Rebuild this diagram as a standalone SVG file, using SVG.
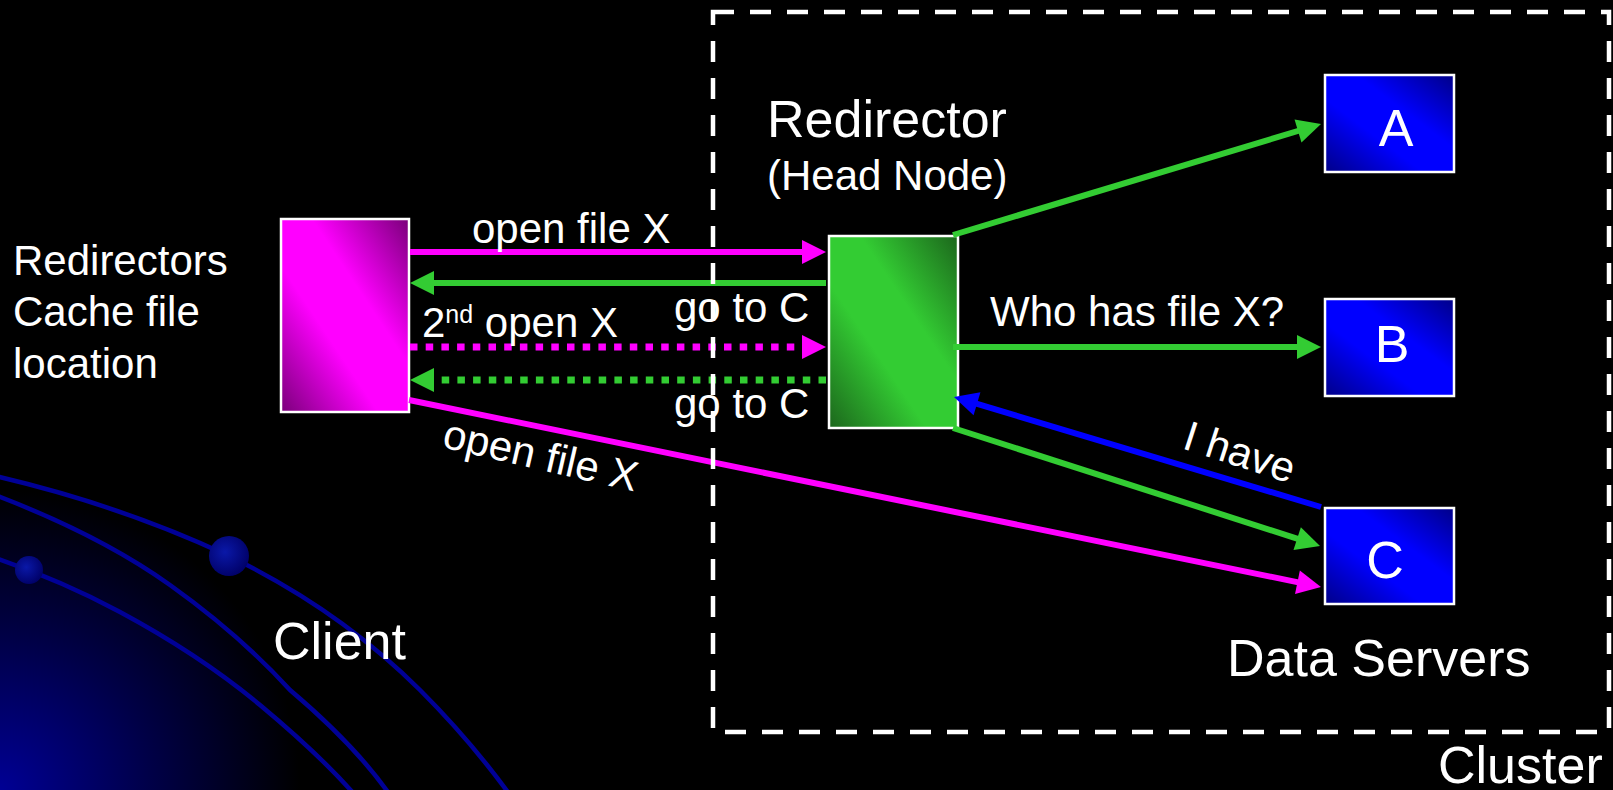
<svg xmlns="http://www.w3.org/2000/svg" width="1613" height="790" viewBox="0 0 1613 790">
  <style>
    text { font-family: "Liberation Sans", Arial, sans-serif; fill: #ffffff; }
    .big { font-size: 52px; }
    .mid { font-size: 42px; }
    .box { stroke: #ffffff; stroke-width: 2.5; }
    .conn { fill: none; stroke-width: 6; }
    .dot { fill: none; stroke-width: 7; stroke-dasharray: 7.5 8.2; }
    .mag { stroke: #ff00ff; }
    .grn { stroke: #33cc33; }
    .blu { stroke: #0000ff; }
    .orbit { fill: none; stroke: #000096; stroke-width: 4.5; }
  </style>
  <defs>
    <radialGradient id="glow" cx="0" cy="790" r="300" gradientUnits="userSpaceOnUse">
      <stop offset="0" stop-color="#000094"/>
      <stop offset="0.5" stop-color="#000048"/>
      <stop offset="1" stop-color="#000000"/>
    </radialGradient>
    <radialGradient id="ball" cx="0.4" cy="0.4" r="0.65">
      <stop offset="0" stop-color="#0a18a8"/>
      <stop offset="1" stop-color="#000066"/>
    </radialGradient>
    <linearGradient id="gMag" x1="1" y1="0" x2="0" y2="1">
      <stop offset="0" stop-color="#7a007a"/>
      <stop offset="0.38" stop-color="#ff00ff"/>
      <stop offset="0.62" stop-color="#ff00ff"/>
      <stop offset="1" stop-color="#7a007a"/>
    </linearGradient>
    <linearGradient id="gGrn" x1="1" y1="0" x2="0" y2="1">
      <stop offset="0" stop-color="#1c661c"/>
      <stop offset="0.38" stop-color="#33cc33"/>
      <stop offset="0.62" stop-color="#33cc33"/>
      <stop offset="1" stop-color="#1c661c"/>
    </linearGradient>
    <linearGradient id="gBlu" x1="1" y1="0" x2="0" y2="1">
      <stop offset="0" stop-color="#000088"/>
      <stop offset="0.38" stop-color="#0000ff"/>
      <stop offset="0.62" stop-color="#0000ff"/>
      <stop offset="1" stop-color="#000088"/>
    </linearGradient>
    <marker id="hMag" markerUnits="userSpaceOnUse" markerWidth="24" markerHeight="24" refX="12" refY="12" orient="auto" overflow="visible">
      <path d="M0,0 L24,12 L0,24 z" fill="#ff00ff"/>
    </marker>
    <marker id="hGrn" markerUnits="userSpaceOnUse" markerWidth="24" markerHeight="24" refX="12" refY="12" orient="auto" overflow="visible">
      <path d="M0,0 L24,12 L0,24 z" fill="#33cc33"/>
    </marker>
    <marker id="hBlu" markerUnits="userSpaceOnUse" markerWidth="24" markerHeight="24" refX="12" refY="12" orient="auto" overflow="visible">
      <path d="M0,0 L24,12 L0,24 z" fill="#0000ff"/>
    </marker>
  </defs>

  <!-- background -->
  <rect x="0" y="0" width="1613" height="790" fill="#000000"/>
  <rect x="0" y="480" width="320" height="310" fill="url(#glow)"/>
  <g id="backdrop-orbits">
    <path class="orbit" d="M-5,476 Q120,505 229,556 Q340,610 420,690 Q470,740 510,795"/>
    <path class="orbit" d="M-5,495 Q100,535 170,585 Q240,635 290,690 Q355,745 390,795"/>
    <path class="orbit" d="M-5,558 Q60,580 120,612 Q200,655 260,705 Q320,755 355,795"/>
    <circle cx="229" cy="556" r="20" fill="url(#ball)"/>
    <circle cx="29" cy="570" r="14" fill="url(#ball)"/>
  </g>

  <!-- client side -->
  <g id="client">
    <rect class="box" x="281" y="219" width="128" height="193" fill="url(#gMag)"/>
    <text class="big" x="273" y="659">Client</text>
  </g>
  <g id="client-note">
    <text class="mid" x="13" y="275">Redirectors</text>
    <text class="mid" x="13" y="326">Cache file</text>
    <text class="mid" x="13" y="378">location</text>
  </g>

  <!-- head node -->
  <g id="redirector">
    <rect class="box" x="829" y="236" width="129" height="192" fill="url(#gGrn)"/>
    <text class="big" x="767" y="137">Redirector</text>
    <text class="mid" x="767" y="190">(Head Node)</text>
  </g>

  <!-- data servers -->
  <g id="server-a">
    <rect class="box" x="1325" y="75" width="129" height="97" fill="url(#gBlu)"/>
    <text class="big" x="1396" y="146" text-anchor="middle">A</text>
  </g>
  <g id="server-b">
    <rect class="box" x="1325" y="299" width="129" height="97" fill="url(#gBlu)"/>
    <text class="big" x="1392" y="362" text-anchor="middle">B</text>
  </g>
  <g id="server-c">
    <rect class="box" x="1325" y="508" width="129" height="96" fill="url(#gBlu)"/>
    <text class="big" x="1385" y="578" text-anchor="middle">C</text>
  </g>
  <g id="servers-label">
    <text class="big" x="1227" y="676">Data Servers</text>
  </g>

  <!-- connectors -->
  <g id="connectors">
    <line class="conn mag" x1="410" y1="252" x2="814" y2="252" marker-end="url(#hMag)"/>
    <line class="conn grn" x1="826" y1="283" x2="422" y2="283" marker-end="url(#hGrn)"/>
    <line class="dot mag" x1="410" y1="347" x2="814" y2="347" marker-end="url(#hMag)"/>
    <line class="dot grn" x1="826" y1="380" x2="422" y2="380" marker-end="url(#hGrn)"/>
    <line class="conn mag" x1="409" y1="400" x2="1309.2" y2="584.6" marker-end="url(#hMag)"/>
    <line class="conn grn" x1="953" y1="235" x2="1309.5" y2="127.5" marker-end="url(#hGrn)"/>
    <line class="conn grn" x1="953" y1="347" x2="1309" y2="347" marker-end="url(#hGrn)"/>
    <line class="conn blu" x1="1321" y1="507" x2="965.5" y2="400.4" marker-end="url(#hBlu)"/>
    <line class="conn grn" x1="953" y1="428" x2="1308.6" y2="542.3" marker-end="url(#hGrn)"/>

    <text class="mid" x="472" y="243">open file X</text>
    <text class="mid" x="674" y="322">go to C</text>
    <text class="mid" x="422" y="337">2<tspan font-size="25" dy="-14">nd</tspan><tspan dy="14"> open X</tspan></text>
    <text class="mid" x="674" y="418">go to C</text>
    <text class="mid" x="441" y="447" transform="rotate(13 441 447)">open file X</text>
    <text class="mid" x="990" y="326">Who has file X?</text>
    <text class="mid" x="1181" y="448" transform="rotate(18 1181 448)">I have</text>
  </g>

  <!-- cluster boundary -->
  <g id="cluster">
    <rect x="713" y="12" width="896" height="720" fill="none" stroke="#ffffff" stroke-width="4.5" stroke-dasharray="21 16"/>
    <text class="big" x="1438" y="783">Cluster</text>
  </g>
</svg>
